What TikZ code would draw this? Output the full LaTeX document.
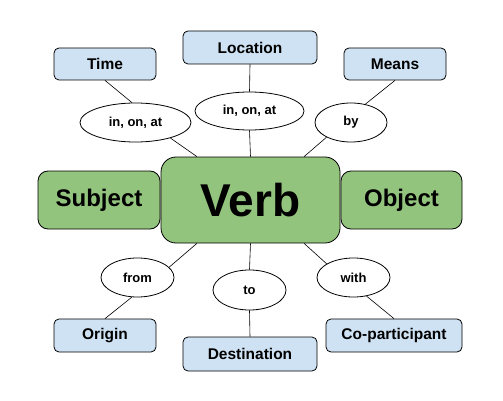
\documentclass[tikz,border=0pt]{standalone}
\usepackage{fontspec}
\setmainfont{Liberation Sans}
\usetikzlibrary{shapes.geometric}
\definecolor{roleblue}{HTML}{CFE2F3}
\definecolor{coregreen}{HTML}{93C47D}
\begin{document}
\begin{tikzpicture}[x=1pt,y=-1pt]
    \tikzstyle{every node}+=[inner sep=0pt]
    \tikzstyle{role}=[draw=black, fill=roleblue, rounded corners=5pt, line width=0.8pt, minimum width=102pt, minimum height=32pt, font=\fontsize{15.5}{18}\selectfont\bfseries]
    \tikzstyle{core}=[draw=black, fill=coregreen, rounded corners=10pt, line width=0.8pt, minimum width=122pt, minimum height=58pt, font=\fontsize{24}{28}\selectfont\bfseries]
    \tikzstyle{prep}=[draw=black, fill=white, ellipse, line width=0.8pt, minimum width=73pt, minimum height=39pt, font=\fontsize{13}{15}\selectfont\bfseries]
    \useasboundingbox (0,0) rectangle (503,401);
    % core row
    \node [core] (subject) at (99,200) {Subject};
    \node [core, minimum width=121pt] (object) at (401.5,200) {Object};
    \node [core, rounded corners=15pt, minimum width=179pt, minimum height=86pt, font=\fontsize{46}{50}\selectfont\bfseries] (verb) at (250.5,200) {Verb};
    % upper roles
    \node [role] (time) at (105,64) {Time};
    \node [role, minimum width=134pt, minimum height=33pt] (location) at (250,47.5) {Location};
    \node [role] (means) at (395,64) {Means};
    \node [prep, minimum width=111pt] (inTime) at (135.5,122.5) {in, on, at};
    \node [prep, minimum width=109pt, minimum height=38pt] (inPlace) at (249.5,111) {in, on, at};
    \node [prep, minimum width=72pt] (by) at (351,122.5) {by};
    % lower roles
    \node [role, minimum height=33pt] (origin) at (105,335.5) {Origin};
    \node [role, minimum width=134pt, minimum height=34pt] (destination) at (250,354) {Destination};
    \node [role, minimum width=136pt, minimum height=33pt] (coparticipant) at (394,335.5) {Co-participant};
    \node [prep] (from) at (137.5,277.5) {from};
    \node [prep, minimum height=40pt] (to) at (249.5,290) {to};
    \node [prep] (with) at (353.5,277.5) {with};
    % connectors
    \draw [line width=0.6pt] (time.south) -- (inTime.100);
    \draw [line width=0.6pt] (inTime.-24) -- (verb.141);
    \draw [line width=0.6pt] (location.south) -- (inPlace.north);
    \draw [line width=0.6pt] (inPlace.south) -- (verb.north);
    \draw [line width=0.6pt] (means.south) -- (by.52);
    \draw [line width=0.6pt] (by.211) -- (verb.39);
    \draw [line width=0.6pt] (verb.219) -- (from.18);
    \draw [line width=0.6pt] (from.254) -- (origin.north);
    \draw [line width=0.6pt] (verb.south) -- (to.north);
    \draw [line width=0.6pt] (to.south) -- (destination.north);
    \draw [line width=0.6pt] (verb.321) -- (with.153);
    \draw [line width=0.6pt] (with.305) -- (coparticipant.north);
\end{tikzpicture}
\end{document}
